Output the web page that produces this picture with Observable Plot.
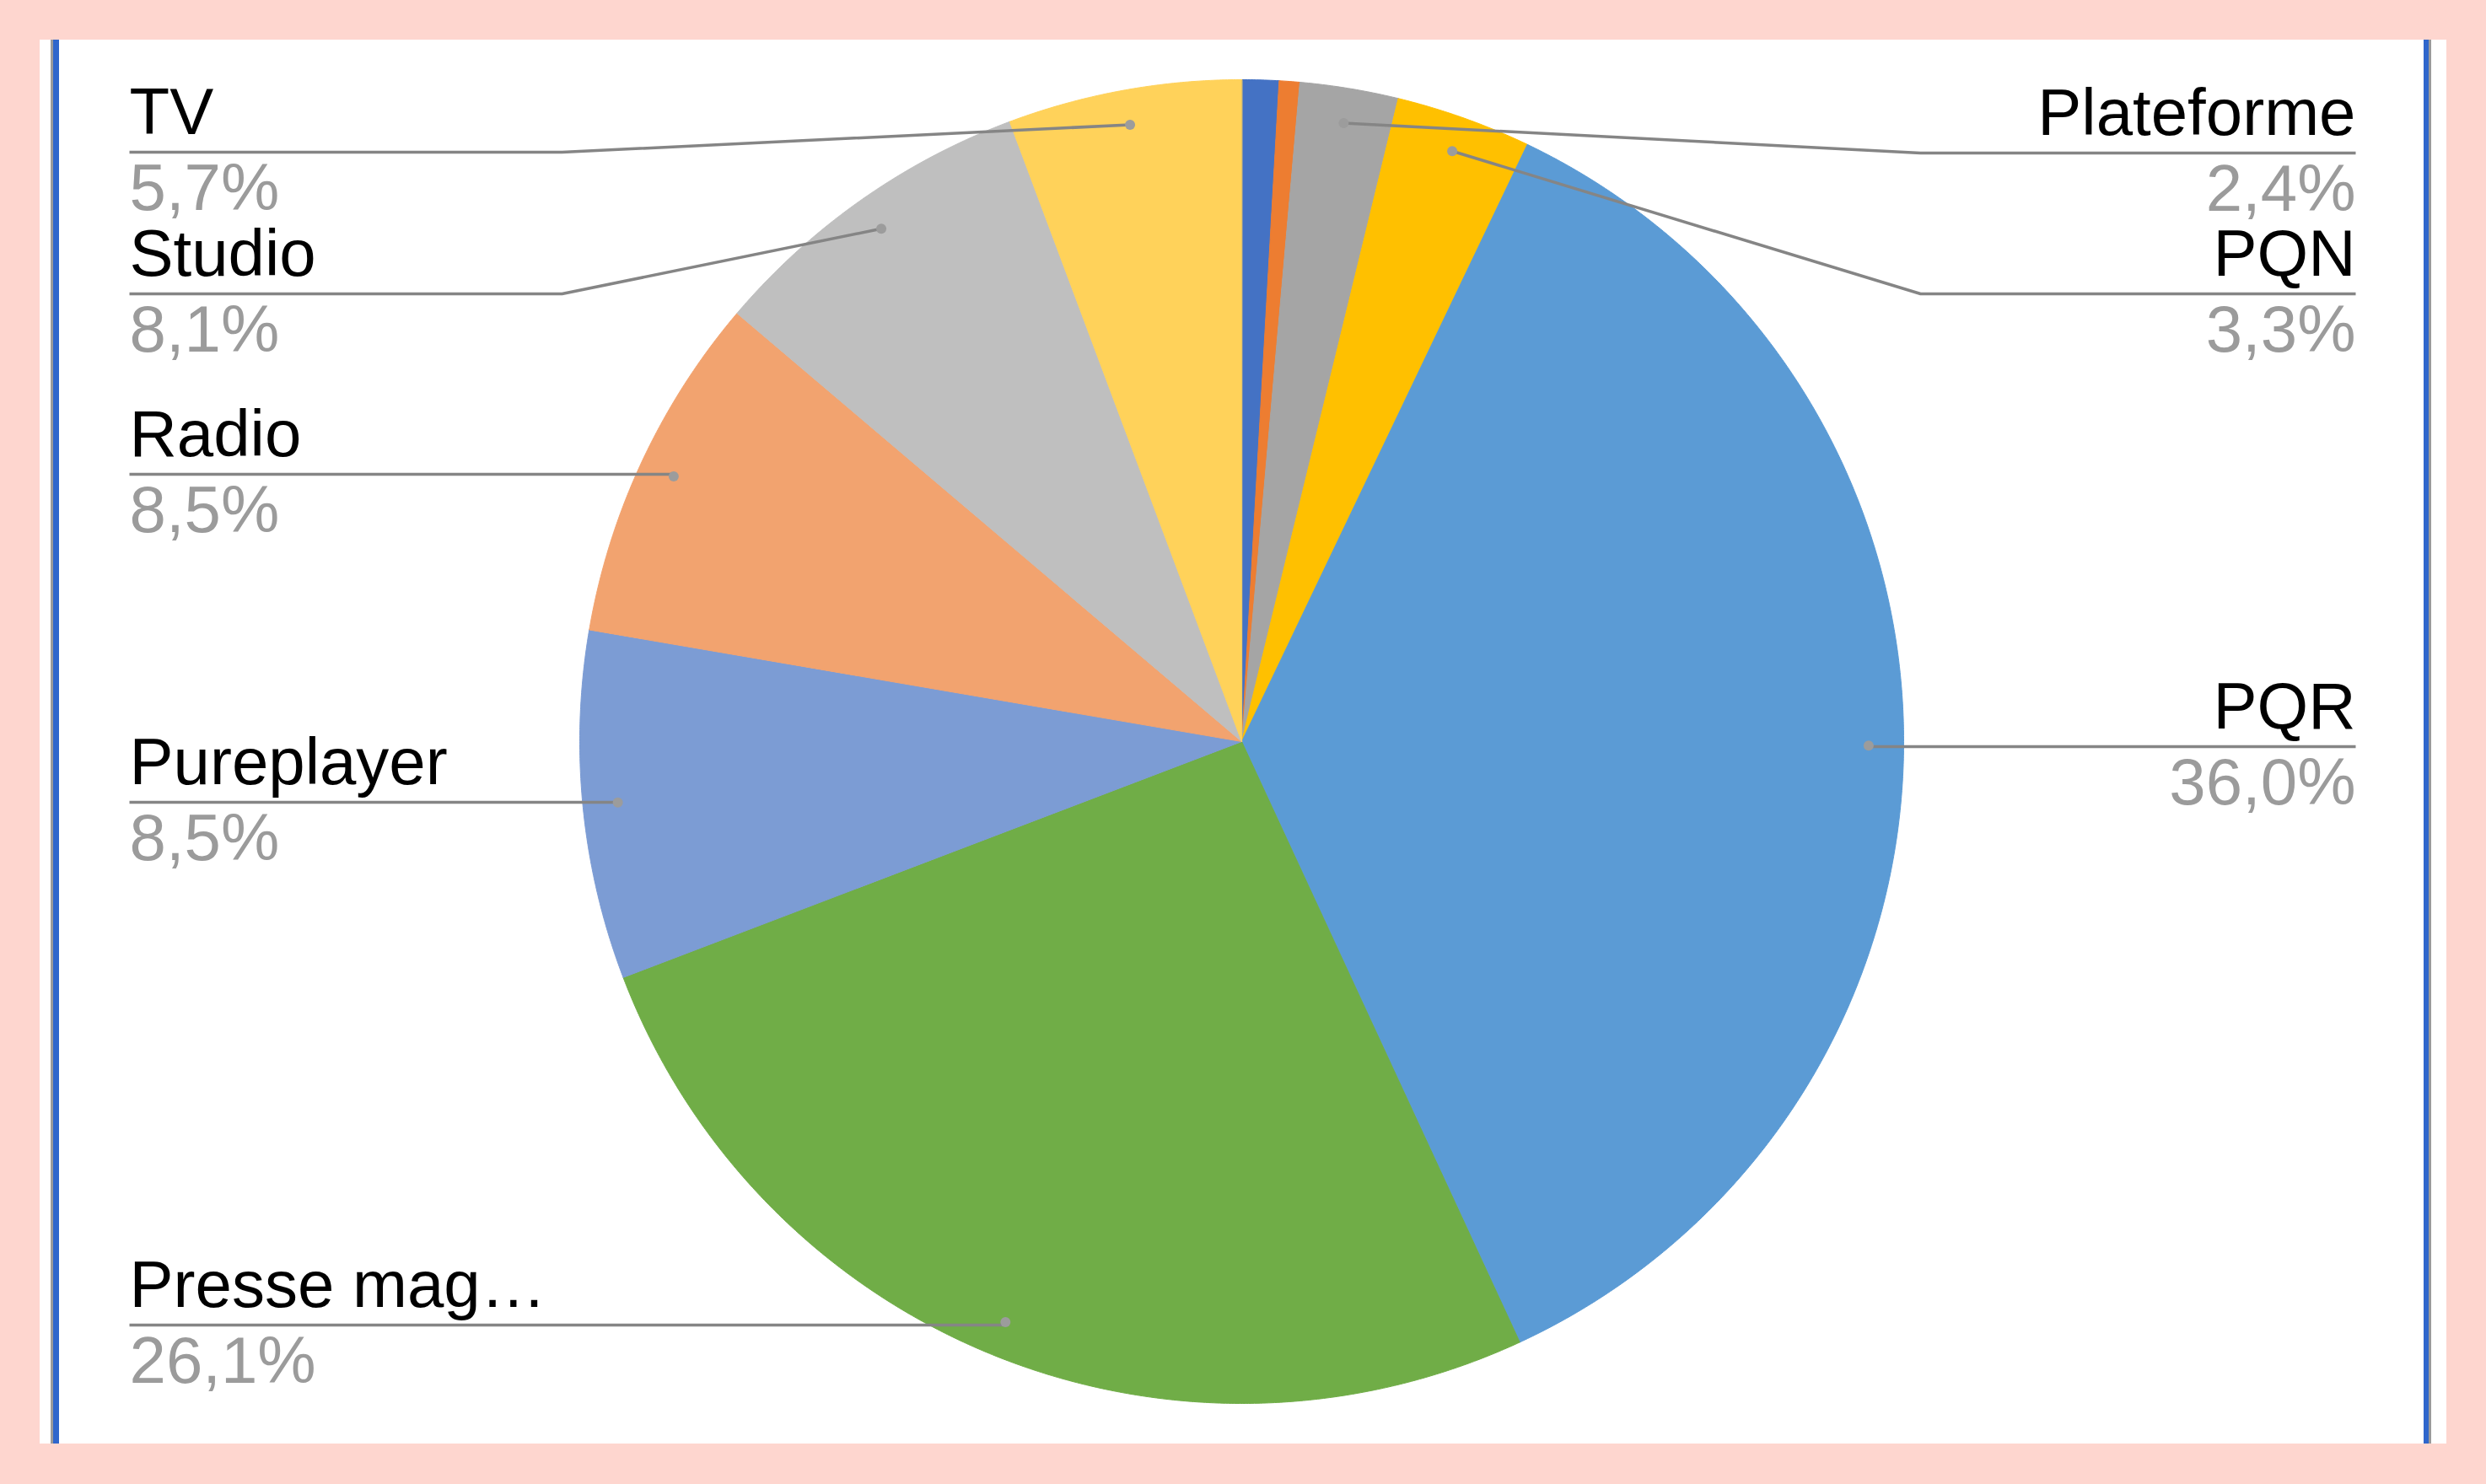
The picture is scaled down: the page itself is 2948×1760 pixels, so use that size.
<!DOCTYPE html>
<html><head><meta charset="utf-8">
<script src="https://cdn.jsdelivr.net/npm/d3@7"></script>
<script src="https://cdn.jsdelivr.net/npm/@observablehq/plot@0.6"></script>
<style>
html,body{margin:0;padding:0;background:#FED6CF;}
body{width:2948px;height:1760px;position:relative;overflow:hidden;}
#panel{position:absolute;left:47px;top:47px;width:2854px;height:1665px;background:#ffffff;}
.edge{position:absolute;top:47px;height:1665px;}
#chart{position:absolute;left:0;top:0;}
</style></head><body>
<div id="panel"></div>
<div class="edge" style="left:60px;width:3px;background:#9a9a9a"></div>
<div class="edge" style="left:63px;width:7px;background:#2f66cc"></div>
<div class="edge" style="left:2874px;width:6px;background:#2f66cc"></div>
<div class="edge" style="left:2880px;width:3px;background:#9a9a9a"></div>
<div id="chart"></div>
<script>
// ---- data, clockwise from 12 o'clock ----
const categories = ["Autre 1", "Autre 2", "Plateforme", "PQN", "PQR", "Presse mag…", "Pureplayer", "Radio", "Studio", "TV"];
const shares     = [0.9, 0.5, 2.4, 3.3, 36.0, 26.1, 8.5, 8.5, 8.1, 5.7];
const labelled   = [false, false, true, true, true, true, true, true, true, true];
const sliceColors = ["#4472C4", "#ED7D31", "#A5A5A5", "#FFC000", "#5B9BD5", "#70AD47", "#7C9CD4", "#F2A36F", "#BFBFBF", "#FFD25A"];

// ---- layout (positions/styles, not data) ----
const W = 2948, H = 1760;
const CX = 1472, CY = 879, R = 785;
const dotRatio = 0.947;
const leftTextX = 153, rightTextX = 2793;
const labelLayout = {
  "Plateforme":  {side: "right", lineY: 181, bendX: 2277},
  "PQN":         {side: "right", lineY: 348, bendX: 2277},
  "PQR":         {side: "right", lineY: 885},
  "Presse mag…": {side: "left",  lineY: 1571},
  "Pureplayer":  {side: "left",  lineY: 951},
  "Radio":       {side: "left",  lineY: 562},
  "Studio":      {side: "left",  lineY: 348, bendX: 666},
  "TV":          {side: "left",  lineY: 180, bendX: 666}
};
const fmtPct = v => d3.format(".1f")(v).replace(".", ",") + "%";

const rows = categories.map((name, i) => ({name, share: shares[i], labelled: labelled[i]}));
const arcs = d3.pie().sort(null).value(d => d.share)(rows);

// slice polygons
const slicePts = [];
arcs.forEach(a => {
  const n = Math.max(2, Math.ceil((a.endAngle - a.startAngle) / (Math.PI / 720)));
  slicePts.push({name: a.data.name, x: CX, y: CY});
  for (let k = 0; k <= n; k++) {
    const t = a.startAngle + (a.endAngle - a.startAngle) * k / n;
    slicePts.push({name: a.data.name, x: CX + R * Math.sin(t), y: CY - R * Math.cos(t)});
  }
});

// label anchors, leader lines, dots
const dots = [], leaders = [], names = [], pcts = [];
arcs.filter(a => a.data.labelled).forEach(a => {
  const name = a.data.name, L = labelLayout[name];
  const mid = (a.startAngle + a.endAngle) / 2;
  const dx = CX + R * dotRatio * Math.sin(mid), dy = CY - R * dotRatio * Math.cos(mid);
  dots.push({name, x: dx, y: dy});
  const tx = L.side === "left" ? leftTextX : rightTextX;
  leaders.push({name, x: tx, y: L.lineY});
  if (L.bendX !== undefined) leaders.push({name, x: L.bendX, y: L.lineY});
  leaders.push({name, x: dx, y: L.bendX !== undefined ? dy : L.lineY});
  if (L.bendX === undefined) leaders.push({name, x: dx, y: dy});
  const anchor = L.side === "left" ? "start" : "end";
  names.push({name, x: tx, y: L.lineY - 22, anchor});
  pcts.push({name, text: fmtPct(a.data.share), x: tx, y: L.lineY + 68, anchor});
});

const font = "'Liberation Sans', Arial, Helvetica, sans-serif";
const chart = Plot.plot({
  width: W, height: H,
  margin: 0,
  style: {background: "transparent", fontFamily: font},
  x: {domain: [0, W], range: [0, W], axis: null},
  y: {domain: [0, H], range: [0, H], axis: null},
  color: {domain: categories, range: sliceColors},
  marks: [
    Plot.line(slicePts, {x: "x", y: "y", z: "name", fill: "name", stroke: "name", strokeWidth: 1, curve: "linear-closed"}),
    Plot.line(leaders, {x: "x", y: "y", z: "name", stroke: "#858585", strokeWidth: 3.5, strokeLinecap: "butt", strokeLinejoin: "round"}),
    Plot.dot(dots, {x: "x", y: "y", r: 6, fill: "#9c9c9c", stroke: "none"}),
    Plot.text(names.filter(d => d.anchor === "start"), {x: "x", y: "y", text: "name", textAnchor: "start", lineAnchor: "bottom", fontSize: 78, fill: "#000"}),
    Plot.text(names.filter(d => d.anchor === "end"), {x: "x", y: "y", text: "name", textAnchor: "end", lineAnchor: "bottom", fontSize: 78, fill: "#000"}),
    Plot.text(pcts.filter(d => d.anchor === "start"), {x: "x", y: "y", text: "text", textAnchor: "start", lineAnchor: "bottom", fontSize: 78, fill: "#9b9b9b"}),
    Plot.text(pcts.filter(d => d.anchor === "end"), {x: "x", y: "y", text: "text", textAnchor: "end", lineAnchor: "bottom", fontSize: 78, fill: "#9b9b9b"})
  ]
});
document.getElementById("chart").appendChild(chart);
</script>
</body></html>
